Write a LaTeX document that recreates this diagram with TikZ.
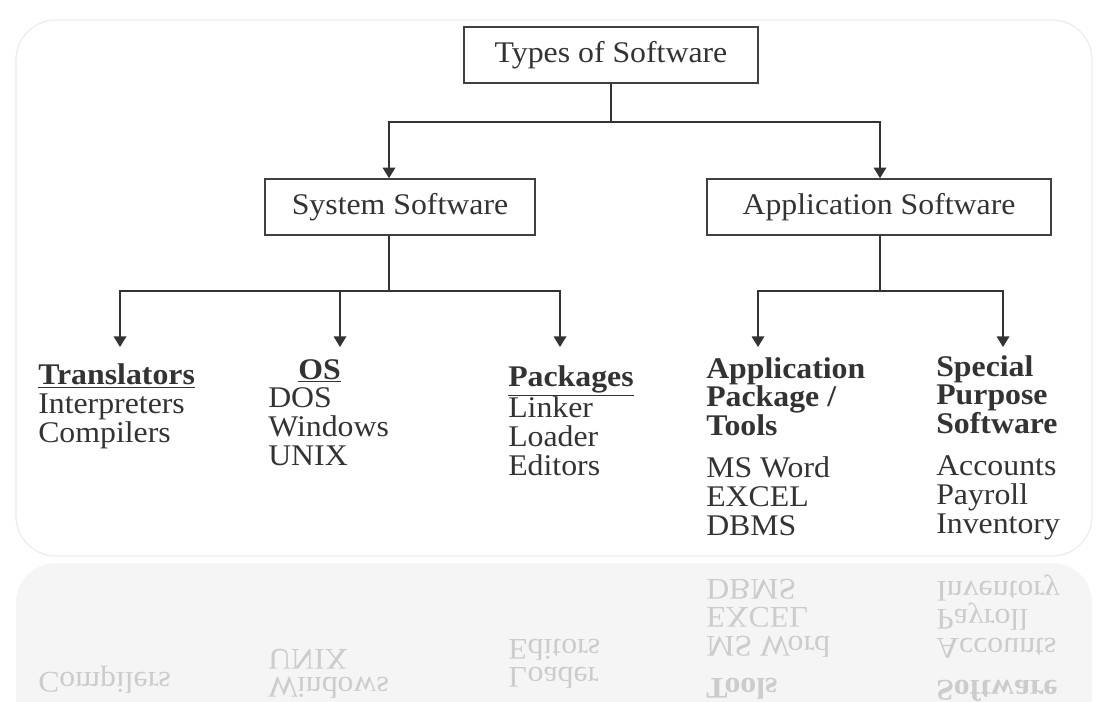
\documentclass[tikz,border=0pt]{standalone}
\usepackage{fontspec}
\setmainfont{Liberation Serif}[FakeStretch=1.06]
\usetikzlibrary{arrows.meta}

\tikzset{
	box/.style={draw=black!75, line width=1.2pt, minimum height=42pt, text=black!80},
	link/.style={draw=black!80, line width=1pt},
	arr/.style={link, -{Triangle[length=8pt,width=9.5pt]}},
	col/.style={anchor=base west, align=left, inner sep=0pt, text=black!80},
	ghost/.style={col, text=black!20}
}

\begin{document}
\begin{tikzpicture}[x=0.75pt, y=-0.75pt,
	every node/.style={font=\fontsize{22.5}{21.4}\selectfont}]
	\useasboundingbox (0,0) rectangle (1105,702);

	% panel and its reflection
	\draw [black!7, line width=1pt, rounded corners=30pt] (16,20) rectangle (1092,556);
	\fill [black!4, rounded corners=30pt] (16,563) rectangle (1092,780);
	\begin{scope}[shift={(0,1114)}, yscale=-1, transform shape]
		\node [ghost] (r-trans) at (38,442) {Compilers};
		\node [ghost] (r-os) at (268,465) {Windows\\UNIX};
		\node [ghost] (r-pack) at (508,475) {Loader\\Editors};
		\node [ghost] (r-tools) at (706,535)
			{\textbf{Tools}\\[10.5pt]MS Word\\EXCEL\\DBMS};
		\node [ghost] (r-special) at (936,533)
			{\textbf{Software}\\[10.5pt]Accounts\\Payroll\\Inventory};
	\end{scope}

	\node [box, minimum width=220.5pt] (types) at (611,55) {Types of Software};
	\node [box, minimum width=202.5pt] (sys) at (400,207) {System Software};
	\node [box, minimum width=258pt] (app) at (879,207) {Application Software};

	\node [col] (trans) at (38,442)
		{\underline{\textbf{Translators}}\\Interpreters\\Compilers};
	\node [col] (os) at (268,465)
		{\hspace*{22.5pt}\underline{\textbf{OS}}\\DOS\\Windows\\UNIX};
	\node [col] (pack) at (508,475)
		{\underline{\textbf{Packages}}\\Linker\\Loader\\Editors};
	\node [col] (tools) at (706,535)
		{\textbf{Application}\\\textbf{Package /}\\\textbf{Tools}\\[10.5pt]MS Word\\EXCEL\\DBMS};
	\node [col] (special) at (936,533)
		{\textbf{Special}\\\textbf{Purpose}\\\textbf{Software}\\[10.5pt]Accounts\\Payroll\\Inventory};

	\coordinate (split) at (611,122);
	\coordinate (sysjoin) at (389,291);
	\coordinate (appjoin) at (880,291);
	\coordinate (tip1) at (120,347);
	\coordinate (tip2) at (340,347);
	\coordinate (tip3) at (560,347);
	\coordinate (tip4) at (758,347);
	\coordinate (tip5) at (1003,347);

	\draw [link] (types) -- (split);
	\draw [arr] (split) -| (sys.north -| sysjoin);
	\draw [arr] (split) -| (app.north -| appjoin);
	\draw [link] (sys.south -| sysjoin) -- (sysjoin);
	\draw [arr] (sysjoin) -| (tip1);
	\draw [arr] (sysjoin -| tip2) -- (tip2);
	\draw [arr] (sysjoin) -| (tip3);
	\draw [link] (app.south -| appjoin) -- (appjoin);
	\draw [arr] (appjoin) -| (tip4);
	\draw [arr] (appjoin) -| (tip5);
\end{tikzpicture}
\end{document}
